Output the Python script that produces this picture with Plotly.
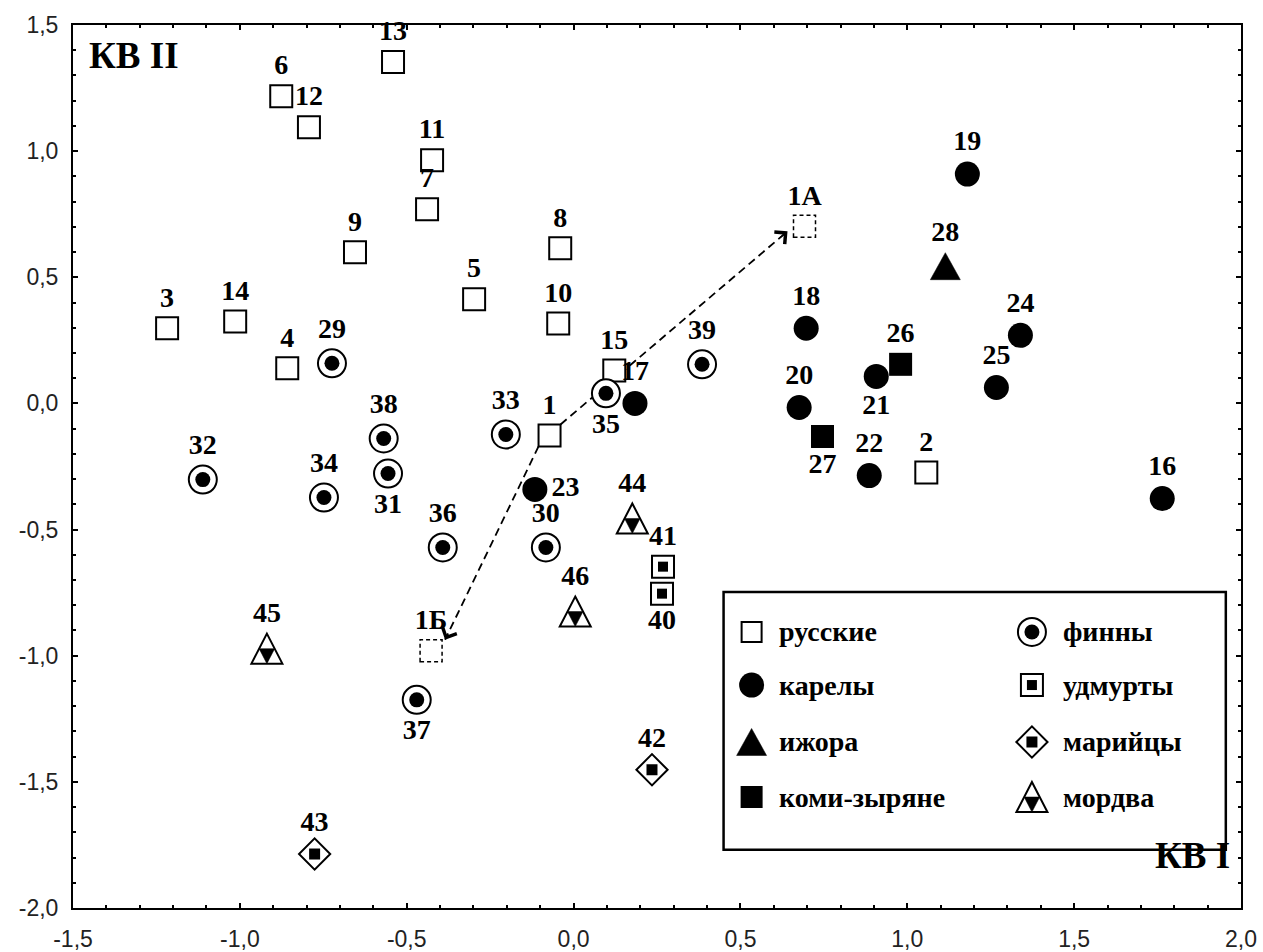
import plotly.graph_objects as go

# ---------------- data ----------------
rus_labels = ["1", "2", "3", "4", "5", "6", "7", "8", "9", "10", "11", "12", "13", "14", "15"]
rus_x = [-0.072, 1.057, -1.218, -0.858, -0.298, -0.876, -0.439, -0.040, -0.655, -0.046, -0.424, -0.793, -0.541, -1.014, 0.122]
rus_y = [-0.127, -0.274, 0.298, 0.139, 0.413, 1.218, 0.770, 0.615, 0.599, 0.317, 0.964, 1.095, 1.353, 0.325, 0.131]

recon_labels = ["1A", "1Б"]
recon_x = [0.692, -0.427]
recon_y = [0.702, -0.980]

kar_labels = ["16", "17", "18", "19", "20", "21", "22", "23", "24", "25"]
kar_x = [1.764, 0.184, 0.697, 1.180, 0.676, 0.907, 0.886, -0.116, 1.339, 1.267]
kar_y = [-0.377, 0.000, 0.298, 0.909, -0.016, 0.107, -0.286, -0.341, 0.270, 0.063]

izh_labels = ["28"]
izh_x = [1.114]
izh_y = [0.544]

komi_labels = ["26", "27"]
komi_x = [0.980, 0.746]
komi_y = [0.155, -0.131]

fin_labels = ["29", "30", "31", "32", "33", "34", "35", "36", "37", "38", "39"]
fin_x = [-0.724, -0.083, -0.556, -1.111, -0.203, -0.748, 0.097, -0.392, -0.470, -0.569, 0.385]
fin_y = [0.159, -0.571, -0.278, -0.302, -0.123, -0.373, 0.040, -0.571, -1.175, -0.139, 0.155]

udm_labels = ["40", "41"]
udm_x = [0.265, 0.268]
udm_y = [-0.754, -0.647]

mari_labels = ["42", "43"]
mari_x = [0.235, -0.776]
mari_y = [-1.452, -1.786]

mord_labels = ["44", "45", "46"]
mord_x = [0.176, -0.919, 0.005]
mord_y = [-0.456, -0.972, -0.825]

legend_names = ["русские", "карелы", "ижора", "коми-зыряне", "финны", "удмурты", "марийцы", "мордва"]

x_ticks = [-1.5, -1.0, -0.5, 0.0, 0.5, 1.0, 1.5, 2.0]
x_tick_labels = ["-1,5", "-1,0", "-0,5", "0,0", "0,5", "1,0", "1,5", "2,0"]
y_ticks = [-2.0, -1.5, -1.0, -0.5, 0.0, 0.5, 1.0, 1.5]
y_tick_labels = ["-2,0", "-1,5", "-1,0", "-0,5", "0,0", "0,5", "1,0", "1,5"]

x_title = "КВ I"
y_title = "КВ II"

# ---------------- style ----------------
SERIF = "Liberation Serif, Times New Roman, serif"
SANS = "Liberation Sans, Arial, sans-serif"
LBL = dict(family=SERIF, size=28, color="black", weight="bold")
BLACK = "black"
WHITE = "white"

W, H = 1263, 952
ML, MR, MT, MB = 73, 22, 25, 44
X_RANGE = [-1.5, 2.0]
Y_RANGE = [-2.0, 1.5]
PX_X = (W - ML - MR) / (X_RANGE[1] - X_RANGE[0])   # pixels per data unit
PX_Y = (H - MT - MB) / (Y_RANGE[1] - Y_RANGE[0])

rus_pos = ["top center"] * len(rus_labels)
kar_pos = ["top center", "top center", "top center", "top center", "top center",
           "bottom center", "top center", "middle right", "top center", "top center"]
komi_pos = ["top center", "bottom center"]
fin_pos = ["top center", "top center", "bottom center", "top center", "top center", "top center",
           "bottom center", "top center", "bottom center", "top center", "top center"]
udm_pos = ["bottom center", "top center"]

# triangle glyphs (pixel paths relative to the anchor, y up)
TRI_OUTER = "M 0,15 L 15.5,-15 L -15.5,-15 Z"
TRI_INNER = "M 0,-15 L 7.75,0 L -7.75,0 Z"
TRI_IZH = "M 0,13.5 L 15,-13.5 L -15,-13.5 Z"

fig = go.Figure()


def add(x, y, symbol, size, fill, lw, labels=None, pos="top center", xaxis="x", yaxis="y"):
    fig.add_trace(go.Scatter(
        x=x, y=y, mode="markers+text" if labels else "markers",
        text=labels, textposition=pos, textfont=LBL,
        marker=dict(symbol=symbol, size=size, color=fill, line=dict(color=BLACK, width=lw)),
        xaxis=xaxis, yaxis=yaxis, showlegend=False, hoverinfo="skip", cliponaxis=False))


def glyph(xs, ys, path, fill, lw, xref="x", yref="y"):
    for gx, gy in zip(xs, ys):
        fig.add_shape(type="path", xref=xref, yref=yref, xsizemode="pixel", ysizemode="pixel",
                      xanchor=gx, yanchor=gy, path=path, fillcolor=fill,
                      line=dict(color=BLACK, width=lw))


# dashed arrow lines from corners of point 1 to the reconstructions
# (start offset from point 1, end offset from target; in pixels, y up)
p1x, p1y = rus_x[0], rus_y[0]
arrow_offsets = [((11, 11), (-17, -5)), ((-11, -11), (14, 11))]
for tx, ty, (s_off, e_off) in zip(recon_x, recon_y, arrow_offsets):
    sx, sy = p1x + s_off[0] / PX_X, p1y + s_off[1] / PX_Y
    ex, ey = tx + e_off[0] / PX_X, ty + e_off[1] / PX_Y
    fig.add_trace(go.Scatter(x=[sx, ex], y=[sy, ey], mode="lines",
                             line=dict(color=BLACK, width=1.8, dash="8px,5px"),
                             showlegend=False, hoverinfo="skip"))
    dx, dy = ex - sx, ey - sy
    fig.add_annotation(x=ex, y=ey, ax=ex - 0.04 * dx, ay=ey - 0.04 * dy,
                       xref="x", yref="y", axref="x", ayref="y", text="",
                       showarrow=True, arrowhead=4, arrowsize=2.2, arrowwidth=1.4,
                       arrowcolor=BLACK)

# reconstructed dashed squares
for rx, ry in zip(recon_x, recon_y):
    fig.add_shape(type="rect", xref="x", yref="y", xsizemode="pixel", ysizemode="pixel",
                  xanchor=rx, yanchor=ry, x0=-11, x1=11, y0=-11, y1=11,
                  line=dict(color=BLACK, width=1.5, dash="4px,3px"))
add(recon_x, recon_y, "square", 22, "rgba(0,0,0,0)", 0, recon_labels, "top center")

# groups
add(rus_x, rus_y, "square", 22, WHITE, 2, rus_labels, rus_pos)
add(kar_x, kar_y, "circle", 25, BLACK, 0, kar_labels, kar_pos)
add(izh_x, izh_y, "square", 27, "rgba(0,0,0,0)", 0, izh_labels, "top center")
glyph(izh_x, izh_y, TRI_IZH, BLACK, 0.5)
add(komi_x, komi_y, "square", 23, BLACK, 0, komi_labels, komi_pos)
add(fin_x, fin_y, "circle", 28, WHITE, 2, fin_labels, fin_pos)
add(fin_x, fin_y, "circle", 15, BLACK, 0)
add(udm_x, udm_y, "square", 22, WHITE, 2, udm_labels, udm_pos)
add(udm_x, udm_y, "square", 10, BLACK, 0)
add(mari_x, mari_y, "diamond", 24, WHITE, 2, mari_labels, "top center")
add(mari_x, mari_y, "square", 11, BLACK, 0)
add(mord_x, mord_y, "square", 30, "rgba(0,0,0,0)", 0, mord_labels, "top center")
glyph(mord_x, mord_y, TRI_OUTER, WHITE, 2)
glyph(mord_x, mord_y, TRI_INNER, BLACK, 0.5)

# ---------------- manual legend ----------------
col_x = [0.581, 0.821]
txt_x = [0.603, 0.846]
row_y = [0.3126, 0.2525, 0.188, 0.1257]
leg_specs = [
    [("square", 20, WHITE, 2)],
    [("circle", 25, BLACK, 0)],
    [],
    [("square", 22, BLACK, 0)],
    [("circle", 28, WHITE, 2), ("circle", 15, BLACK, 0)],
    [("square", 22, WHITE, 2), ("square", 10, BLACK, 0)],
    [("diamond", 24, WHITE, 2), ("square", 11, BLACK, 0)],
    [],
]
for i, name in enumerate(legend_names):
    c, r = divmod(i, 4)
    for sym, sz, fill, lw in leg_specs[i]:
        add([col_x[c]], [row_y[r]], sym, sz, fill, lw, xaxis="x2", yaxis="y2")
    fig.add_annotation(x=txt_x[c], y=row_y[r], xref="paper", yref="paper", text=name,
                       showarrow=False, xanchor="left", yanchor="middle",
                       font=dict(family=SERIF, size=28, color="black", weight="bold"))
glyph([col_x[0]], [row_y[2]], TRI_IZH, BLACK, 0.5, "paper", "paper")
glyph([col_x[1]], [row_y[3]], TRI_OUTER, WHITE, 2, "paper", "paper")
glyph([col_x[1]], [row_y[3]], TRI_INNER, BLACK, 0.5, "paper", "paper")

fig.add_shape(type="rect", xref="paper", yref="paper", x0=0.557, x1=0.987, y0=0.066, y1=0.358,
              line=dict(color=BLACK, width=2.5))

# axis titles
fig.add_annotation(x=0.012, y=0.966, xref="paper", yref="paper", text=y_title, showarrow=False,
                   xanchor="left", yanchor="middle",
                   font=dict(family=SERIF, size=37, color="black", weight="bold"))
fig.add_annotation(x=0.992, y=0.059, xref="paper", yref="paper", text=x_title, showarrow=False,
                   xanchor="right", yanchor="middle",
                   font=dict(family=SERIF, size=37, color="black", weight="bold"))

axis_common = dict(showline=True, linecolor=BLACK, linewidth=2, mirror="ticks",
                   ticks="inside", ticklen=5, tickwidth=1.8, tickcolor=BLACK,
                   showgrid=False, zeroline=False, automargin=False,
                   tickfont=dict(family=SANS, size=23, color="#222"),
                   minor=dict(ticks="inside", ticklen=3, tickwidth=1.5, tickcolor=BLACK, dtick=0.1,
                              showgrid=False))

fig.update_layout(
    width=W, height=H,
    margin=dict(l=ML, r=MR, t=MT, b=MB),
    paper_bgcolor="white", plot_bgcolor="white",
    xaxis=dict(range=X_RANGE, tickmode="array", tickvals=x_ticks, ticktext=x_tick_labels,
               ticklabelstandoff=9, **axis_common),
    yaxis=dict(range=Y_RANGE, tickmode="array", tickvals=y_ticks, ticktext=y_tick_labels,
               ticklabelstandoff=8, **axis_common),
    xaxis2=dict(range=[0, 1], overlaying="x", visible=False, anchor="y2"),
    yaxis2=dict(range=[0, 1], overlaying="y", visible=False, anchor="x2"),
    showlegend=False,
)

fig.write_html("out.html", config={"displayModeBar": False},
               post_script="document.body.style.margin='0';document.body.style.padding='0';"
                           "document.body.style.overflow='hidden';")
